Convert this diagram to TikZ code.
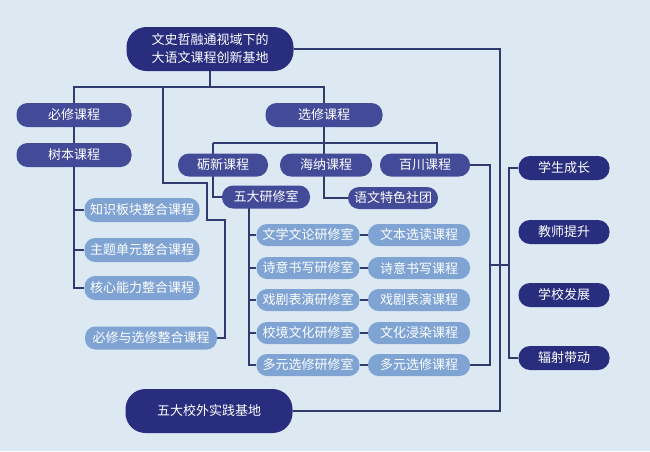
\documentclass[tikz,border=0pt]{standalone}
\usepackage{fontspec}
\setmainfont{Noto Sans CJK SC}
\usetikzlibrary{backgrounds}
\definecolor{bgblue}{HTML}{DCE9F3}
\definecolor{darknavy}{HTML}{282D7E}
\definecolor{midnavy}{HTML}{434B99}
\definecolor{lightblue}{HTML}{7FA4D4}
\definecolor{linenavy}{HTML}{2F3A6E}
\tikzset{
  box/.style={text=white, inner sep=0pt, align=center, font=\fontsize{13}{18}\selectfont},
  darkbox/.style={box, fill=darknavy, minimum height=24pt, rounded corners=11.5pt},
  bigbox/.style={box, fill=darknavy, minimum width=167pt, minimum height=44pt, rounded corners=20pt},
  midbox/.style={box, fill=midnavy, minimum height=23pt, rounded corners=11pt},
  litebox/.style={box, fill=lightblue, minimum height=22pt, rounded corners=10.5pt},
  link/.style={draw=linenavy, line width=1.1pt}
}

\begin{document}
\begin{tikzpicture}[x=1pt, y=-1pt]
			%%%%% START %%%%%
			\useasboundingbox (0, 0) rectangle (650, 451);
			
			\node[bigbox] (root) at (210, 49) {文史哲融通视域下的\\大语文课程创新基地};
			\node[bigbox] (jidi) at (209, 411) {五大校外实践基地};
			
			\node[midbox, minimum width=115pt, minimum height=24pt] (bixiu) at (74, 115) {必修课程};
			\node[midbox, minimum width=115pt, minimum height=24pt] (shuben) at (74, 155) {树本课程};
			\node[midbox, minimum width=117pt, minimum height=24pt] (xuanxiu) at (324, 115) {选修课程};
			
			\node[midbox, minimum width=90pt] (lixin) at (223, 165) {砺新课程};
			\node[midbox, minimum width=92pt] (haina) at (326, 165) {海纳课程};
			\node[midbox, minimum width=90pt] (baichuan) at (425, 165) {百川课程};
			\node[midbox, minimum width=88pt] (yanxiu) at (266, 197) {五大研修室};
			\node[midbox, minimum width=90pt, minimum height=22pt] (shetuan) at (393, 198) {语文特色社团};
			
			\node[litebox, minimum width=115pt, minimum height=24pt] (zhishi) at (142, 210) {知识板块整合课程};
			\node[litebox, minimum width=115pt, minimum height=24pt] (zhuti) at (142, 250) {主题单元整合课程};
			\node[litebox, minimum width=115pt, minimum height=24pt] (hexin) at (142, 288) {核心能力整合课程};
			\node[litebox, minimum width=132pt, minimum height=23pt] (zhenghe) at (151, 338) {必修与选修整合课程};
			
			\node[litebox, minimum width=103pt] (yan1) at (308, 235) {文学文论研修室};
			\node[litebox, minimum width=103pt] (yan2) at (308, 268) {诗意书写研修室};
			\node[litebox, minimum width=103pt] (yan3) at (308, 300) {戏剧表演研修室};
			\node[litebox, minimum width=103pt] (yan4) at (308, 333) {校境文化研修室};
			\node[litebox, minimum width=103pt] (yan5) at (308, 365) {多元选修研修室};
			
			\node[litebox, minimum width=102pt] (ke1) at (419, 235) {文本选读课程};
			\node[litebox, minimum width=102pt] (ke2) at (419, 268) {诗意书写课程};
			\node[litebox, minimum width=102pt] (ke3) at (419, 300) {戏剧表演课程};
			\node[litebox, minimum width=102pt] (ke4) at (419, 333) {文化浸染课程};
			\node[litebox, minimum width=102pt] (ke5) at (419, 365) {多元选修课程};
			
			\node[darkbox, minimum width=91pt] (xuesheng) at (564, 168) {学生成长};
			\node[darkbox, minimum width=91pt] (jiaoshi) at (564, 232) {教师提升};
			\node[darkbox, minimum width=91pt] (xuexiao) at (564, 295) {学校发展};
			\node[darkbox, minimum width=91pt] (fushe) at (564, 358) {辐射带动};
			
			\coordinate (bus) at (0, 87);
			\coordinate (split) at (163, 87);
			\coordinate (bustwol) at (213, 143);
			\coordinate (bustwor) at (437, 143);
			\coordinate (yandrop) at (249, 0);
			\coordinate (hub) at (490, 265);
			\coordinate (rbus) at (509, 265);
			\coordinate (rline) at (500, 0);
			
			\begin{scope}[on background layer]
			\fill[bgblue] (0, 0) rectangle (650, 451);
			
			\draw[link] (root) -- (root |- bus);
			\draw[link] (bixiu) -- (bixiu |- bus) -| (xuanxiu);
			\draw[link] (bixiu) -- (shuben);
			\foreach \n in {zhishi, zhuti, hexin}
				\draw[link] (shuben) |- (\n);
			\draw[link] (split) -- ++(0, 96) -- ++(44, 0) -- ++(0, 37) -- ++(18, 0) |- (zhenghe);
			
			\draw[link] (xuanxiu) |- (shetuan);
			\draw[link] (bustwol) -- (bustwor) -- (bustwor |- baichuan);
			\draw[link] (bustwol) |- (yanxiu);
			\foreach \i in {1, ..., 5} {
				\draw[link] (yandrop |- yanxiu) |- (yan\i);
				\draw[link] (yan\i) -- (ke\i);
			}
			
			\draw[link] (baichuan) -| (hub) |- (ke5);
			\draw[link] (hub) -- (rbus);
			\draw[link] (xuesheng) -| (rbus) |- (fushe);
			
			\draw[link] (root) -| (rline |- jidi) -- (jidi);
			\end{scope}
			
			%%%%% END %%%%%
\end{tikzpicture}
\end{document}
